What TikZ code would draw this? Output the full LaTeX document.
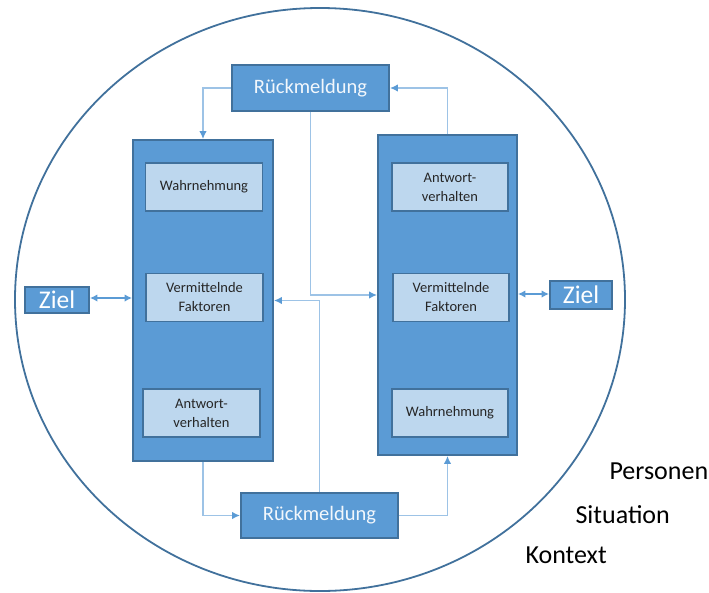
\documentclass[tikz,border=0pt]{standalone}
\usepackage{fontspec}
\setmainfont{Carlito}
\usetikzlibrary{arrows.meta}
\definecolor{ringblue}{HTML}{41719C}
\definecolor{boxblue}{HTML}{5B9BD5}
\definecolor{boxedge}{HTML}{41719C}
\definecolor{innerfill}{HTML}{BDD7EE}
\definecolor{linkblue}{HTML}{9DC3E6}
\definecolor{tipblue}{HTML}{5B9BD5}
\definecolor{darktext}{HTML}{262626}
\tikzset{
  outerbox/.style={draw=boxedge, fill=boxblue, line width=1.8pt, inner sep=0pt},
  innerbox/.style={draw=boxedge, fill=innerfill, line width=1.5pt, inner sep=0pt,
    minimum width=117pt, minimum height=48pt, align=center, text=darktext,
    font=\fontsize{14.5}{19}\selectfont},
  feedbox/.style={draw=boxedge, fill=boxblue, line width=1.8pt, inner sep=0pt,
    minimum width=157pt, minimum height=46pt, text=white!92!boxblue,
    font=\fontsize{20.5}{24}\selectfont},
  goalbox/.style={draw=boxedge, fill=boxblue, line width=1.8pt, inner sep=0pt,
    minimum width=63pt, text=white, font=\fontsize{25.5}{28}\selectfont},
  link/.style={draw=linkblue, line width=1.6pt, -{Latex[length=8pt,width=7.5pt,color=tipblue]}},
  goallink/.style={draw=tipblue, line width=1.5pt,
    {Latex[length=7.5pt,width=7.5pt,color=tipblue]}-{Latex[length=7.5pt,width=7.5pt,color=tipblue]}},
  layer/.style={anchor=base west, text=black, font=\fontsize{26}{30}\selectfont}
}
\begin{document}
\begin{tikzpicture}[x=1pt,y=-1pt]
\useasboundingbox (0,0) rectangle (709,592);

% surrounding context ellipse
\draw[ringblue, line width=1.8pt] (320,299.5) ellipse [x radius=305, y radius=291.5];

% two communicating parties
\node[outerbox, minimum width=140pt, minimum height=321pt] (lb) at (203,300.5) {};
\node[outerbox, minimum width=139pt, minimum height=320pt] (rb) at (447.5,295) {};

\node[innerbox] (lw) at (204,187) {Wahrnehmung};
\node[innerbox] (lv) at (204.5,297.5) {Vermittelnde\\Faktoren};
\node[innerbox] (la) at (201.5,413) {Antwort-\\verhalten};

\node[innerbox, minimum width=116pt] (ra) at (450,187) {Antwort-\\verhalten};
\node[innerbox, minimum width=116pt] (rv) at (451,297.5) {Vermittelnde\\Faktoren};
\node[innerbox, minimum width=116pt] (rw) at (450,413) {Wahrnehmung};

% feedback boxes
\node[feedbox] (rt) at (310.5,88) {Rückmeldung};
\node[feedbox, minimum height=45pt] (br) at (319.5,515.5) {Rückmeldung};

% goals
\node[goalbox, minimum width=64pt, minimum height=26pt] (zl) at (57,300) {Ziel};
\node[goalbox, minimum width=62pt, minimum height=28pt] (zr) at (581,295) {Ziel};

% feedback loops
\draw[link] (rt.west) -| (lb.north);
\draw[link] (rb.north) |- (rt.east);
\draw[link] (rt.south) |- (rb.west);
\draw[link] (br.north) |- (lb.east);
\draw[link] (lb.south) |- (br.west);
\draw[link] (br.east) -| (rb.south);

% goal links
\draw[goallink] ([yshift=2pt]zl.east) -- ([yshift=2pt]zl.east -| lb.west);
\draw[goallink] ([yshift=1pt]rb.east) -- ([yshift=1pt]rb.east -| zr.west);

% layers of the setting
\node[layer] (pers) at (606,479) {Personen};
\node[layer] (sit) at (572,523) {Situation};
\node[layer] (kon) at (522,563) {Kontext};
\end{tikzpicture}
\end{document}
